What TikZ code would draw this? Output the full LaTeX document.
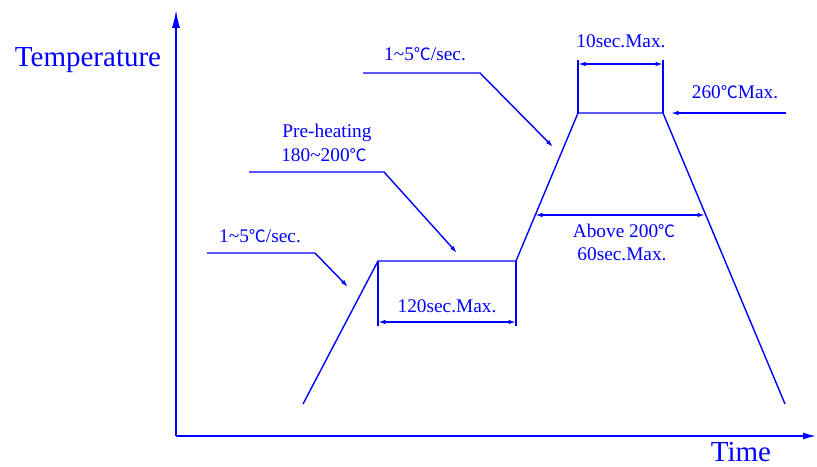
\documentclass[tikz,border=0pt]{standalone}
\usepackage{fontspec}
\setmainfont{Liberation Serif}
\newfontfamily\cjk[Scale=0.88]{Noto Sans CJK SC}
\usetikzlibrary{arrows.meta}
\newcommand{\degc}{{\cjk ℃}}
\newcommand{\tld}{\textasciitilde}

\begin{document}
\begin{tikzpicture}[x=0.02cm,y=-0.02cm,
                line/.style={draw=blue,line width=0.8pt},
                tip/.style={line,-{Latex[length=1.5mm,width=0.9mm]}},
                dim/.style={line,{Latex[length=1.5mm,width=0.9mm]}-{Latex[length=1.5mm,width=0.9mm]}},
                lbl/.style={text=blue,font=\fontsize{11}{13}\selectfont,inner sep=0pt,anchor=base},
                big/.style={text=blue,font=\fontsize{16.5}{19}\selectfont,inner sep=0pt,anchor=base}]
                \useasboundingbox (0,0) rectangle (817,466);

                \coordinate (o) at (176,436);
                \coordinate (ytop) at (176,10);
                \coordinate (xend) at (816,436);
                \draw[line,-{Latex[length=3.6mm,width=1.6mm]}] (o) -- (ytop);
                \draw[line,-{Latex[length=2.6mm,width=1.4mm]}] (o) -- (xend);
                \node[big] (temp) at (88,67) {Temperature};
                \node[big] (time) at (741,461) {Time};

                \coordinate (p0) at (303,404);
                \coordinate (p1) at (378,261);
                \coordinate (p2) at (516,261);
                \coordinate (p3) at (578,113);
                \coordinate (p4) at (663,113);
                \coordinate (p5) at (785,404);
                \draw[line] (p0) -- (p1) -- (p2) -- (p3) -- (p4) -- (p5);

                \coordinate (a1) at (378,326);
                \coordinate (a2) at (516,326);
                \draw[line] (p1) -- (a1);
                \draw[line] (p2) -- (a2);
                \coordinate (a3) at (378,322);
                \coordinate (a4) at (516,322);
                \draw[dim] (a3) -- (a4);
                \node[lbl] (preheatmax) at (447,312) {120sec.Max.};

                \coordinate (b1) at (578,60);
                \coordinate (b2) at (663,60);
                \draw[line] (p3) -- (b1);
                \draw[line] (p4) -- (b2);
                \coordinate (b3) at (578,64);
                \coordinate (b4) at (663,64);
                \draw[dim] (b3) -- (b4);
                \node[lbl] (peakmax) at (621,48) {10sec.Max.};

                \coordinate (c1) at (786,113);
                \coordinate (c2) at (671,113);
                \draw[tip] (c1) -- (c2);
                \node[lbl] (peaktemp) at (735,98) {260\degc Max.};

                \coordinate (e1) at (535,215);
                \coordinate (e2) at (705,215);
                \draw[dim] (e1) -- (e2);
                \node[lbl] (above) at (624,237) {Above 200\degc};
                \node[lbl] (abovemax) at (622,260) {60sec.Max.};

                \coordinate (l1a) at (363,73);
                \coordinate (l1b) at (480,73);
                \coordinate (l1c) at (553,147);
                \draw[tip] (l1a) -- (l1b) -- (l1c);
                \node[lbl] (rampup) at (425,61) {1\tld5\degc/sec.};

                \coordinate (l2a) at (249,172);
                \coordinate (l2b) at (384,172);
                \coordinate (l2c) at (457,253);
                \draw[tip] (l2a) -- (l2b) -- (l2c);
                \node[lbl] (preheat) at (327,137) {Pre-heating};
                \node[lbl] (preheattemp) at (324,161) {180\tld200\degc};

                \coordinate (l3a) at (207,253);
                \coordinate (l3b) at (315,253);
                \coordinate (l3c) at (348,287);
                \draw[tip] (l3a) -- (l3b) -- (l3c);
                \node[lbl] (rampstart) at (260,242) {1\tld5\degc/sec.};
            \end{tikzpicture}
\end{document}
